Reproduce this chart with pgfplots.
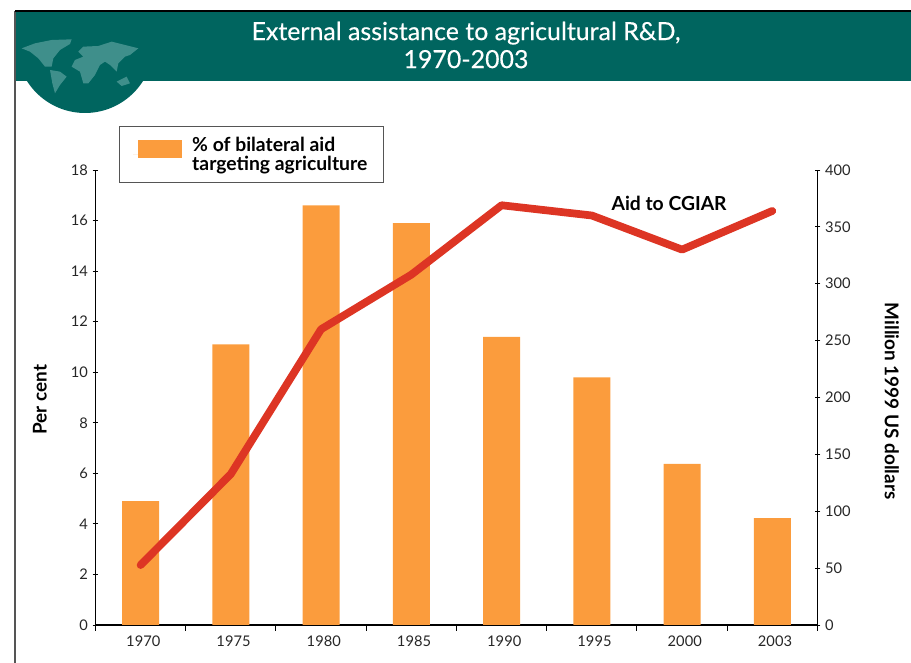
\documentclass[border=0pt]{standalone}
\usepackage{fontspec}
\usepackage{pgfplots}
\pgfplotsset{compat=1.18}
\setmainfont{Lato}
\newfontfamily\titlefont[FakeBold=0.3]{Lato}
\definecolor{banner}{HTML}{00655F}
\definecolor{mapteal}{HTML}{3F8F8B}
\definecolor{baror}{HTML}{FB9C3D}
\definecolor{linered}{HTML}{DD3524}
\definecolor{framegr}{HTML}{555555}
\pgfplotstableread{
x share
0 4.9
1 11.1
2 16.6
3 15.9
4 11.4
5 9.8
6 6.37
7 4.23
}\sharetable
\pgfplotstableread{
x aid
0 52.7
1 132.7
2 260
3 308
4 369
5 360
6 330
7 364
}\aidtable
\pgfplotsset{
  common/.style={
    scale only axis,
    width=541.5pt, height=341.25pt,
    at={(71.6pt,28.5pt)}, anchor=south west,
    xmin=-0.5, xmax=7.5,
    axis line style={line width=0.8pt},
    tick style={line width=0.7pt, black},
    tick label style={font=\fontsize{11}{13}\selectfont, text=black!85},
    /pgf/number format/assume math mode=true,
  }
}
\begin{document}
\begin{tikzpicture}
\useasboundingbox (0,0) rectangle (683.25pt,497.25pt);
% banner, globe and frame, in pixels from the top left
\begin{scope}[x=0.75pt,y=-0.75pt,yshift=497.25pt]
\fill[banner] (15,11) rectangle (911,81);
\begin{scope}
\clip (15,81) rectangle (170,125);
\fill[banner] (85,44.4) circle (68.6);
\end{scope}
\begin{scope}[shift={(15,30)},x=0.25pt,y=-0.25pt]
\fill[mapteal] (20,55) -- (60,40) -- (110,30) -- (170,28) -- (165,42) -- (135,60) -- (115,85) -- (110,110) -- (90,110) -- (70,85) -- (45,65) -- cycle;
\fill[mapteal] (105,120) -- (135,125) -- (155,140) -- (135,165) -- (120,190) -- (112,160) -- cycle;
\fill[mapteal] (190,65) -- (205,50) -- (250,48) -- (290,35) -- (330,45) -- (370,55) -- (345,75) -- (330,80) -- (310,100) -- (305,125) -- (285,105) -- (270,95) -- (255,105) -- (240,135) -- (220,160) -- (205,160) -- (195,125) -- (170,110) -- (180,90) -- (205,80) -- cycle;
\fill[mapteal] (305,155) -- (335,140) -- (345,160) -- (320,168) -- cycle;
\end{scope}
\draw[framegr,line width=1pt] (15,663) -- (15,11);
\draw[black,line width=1pt] (15,11) -- (911,11);
\node[text=white,align=center,font=\titlefont\fontsize{18.7}{21}\selectfont] at (466,45) {External assistance to agricultural R\&D,\\1970-2003};
\end{scope}

% bars, left axis
\begin{axis}[
  common,
  axis y line*=left, axis x line*=bottom,
  ymin=0, ymax=18, ytick={0,2,...,18},
  ytick align=center,
  xtick={0,...,7},
  xticklabels={1970,1975,1980,1985,1990,1995,2000,2003},
  xtick align=outside,
  major x tick style={draw=none},
  minor xtick={-0.5,0.5,...,7.5},
  minor x tick style={line width=0.7pt, black},
  minor tick length=4.5pt,
  xticklabel style={xshift=2pt},
  ylabel={\bfseries Per cent},
  ylabel style={font=\fontsize{14.2}{16}\selectfont, at={(rel axis cs:-0.0769,0.495)}, anchor=center},
  legend style={at={(rel axis cs:0.0332,1.0956)}, anchor=north west, draw=framegr, line width=0.7pt,
    inner xsep=10pt, inner ysep=5.5pt, font=\fontsize{14.5}{14.25}\selectfont\bfseries,
    nodes={align=left}, column sep=5.5pt},
  legend cell align=left,
  legend image code/.code={\path (-3.75pt,0pt) -- (0pt,0pt);\fill[baror] (0pt,-2.6pt) rectangle (33pt,10.9pt);},
]
\addplot[ybar, bar width=27.75pt, fill=baror, draw=none, bar shift=0pt] table[x=x,y=share] {\sharetable};
\addlegendentry{\% of bilateral aid\\targeting agriculture}
\end{axis}

% line, right axis
\begin{axis}[
  common,
  axis y line*=right, axis x line=none,
  ymin=0, ymax=400, ytick={0,50,...,400},
  ytick align=center,
  ylabel={\bfseries Million 1999 US dollars},
  ylabel style={font=\fontsize{14.2}{16}\selectfont, rotate=180, at={(rel axis cs:1.103,0.492)}, anchor=center},
  clip=false,
]
\addplot[linered, line width=5.8pt, line cap=round, line join=round] table[x=x,y=aid] {\aidtable};
\node[font=\fontsize{14.5}{16}\selectfont\bfseries] at (axis cs:5.856,371) {Aid to CGIAR};
\end{axis}
\end{tikzpicture}
\end{document}
